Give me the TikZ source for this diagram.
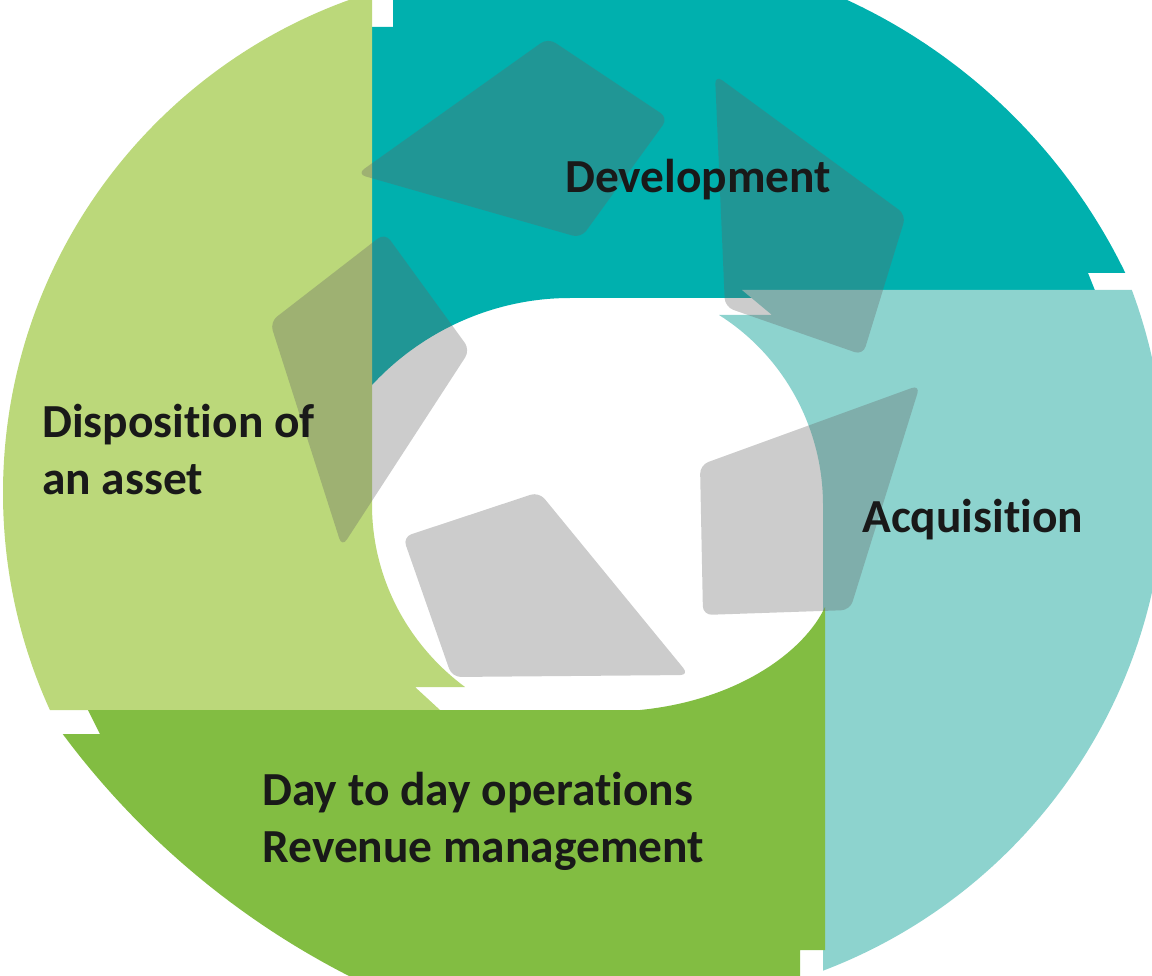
\documentclass[tikz,border=0pt]{standalone}
\usepackage{fontspec}
\setmainfont{Carlito}[Ligatures={NoCommon}]
\usepackage{tikz}

\definecolor{devteal}{RGB}{0,176,174}
\definecolor{acqteal}{RGB}{141,211,206}
\definecolor{dispgreen}{RGB}{187,216,122}
\definecolor{opsgreen}{RGB}{130,189,66}
\definecolor{shadegray}{RGB}{100,100,100}

\begin{document}
\begin{tikzpicture}[
	x=0.02cm, y=-0.02cm,
	segment/.style={draw=none},
	recycle/.style={
		fill=shadegray,
		fill opacity=0.33,
		rounded corners=5pt
	},
	caption/.style={
		inner sep=0pt,
		align=left,
		text=black!90,
		font=\bfseries\fontsize{27}{32.3}\selectfont
	}
	]
	
	\useasboundingbox (0,0) rectangle (1152,976);
	\clip (0,0) rectangle (1152,976);
	
	% Segments of the ring
	\begin{scope}
		\clip (605,525) circle[radius=578];
		\fill[segment, devteal] (393,-50) -- (393,27) -- (372,27) -- (372,385)
		.. controls (423,330) and (495,298) .. (570,298)
		-- (1098,298) -- (1088,273) -- (1300,273) -- (1300,-50) -- cycle;
	\end{scope}
	
	\begin{scope}
		\clip (635,475) circle[radius=530];
		\fill[segment, acqteal] (742,290) -- (772,315) -- (719,315)
		.. controls (784,356) and (823,428) .. (823,505)
		-- (823,1100) -- (1300,1100) -- (1300,290) -- cycle;
	\end{scope}
	
	\begin{scope}
		\clip (527,493) circle[radius=524];
		\fill[segment, dispgreen] (372,-50) -- (372,505)
		.. controls (372,577) and (407,644) .. (465,687)
		-- (415,687) -- (440,710) -- (-50,710) -- (-50,-50) -- cycle;
	\end{scope}
	
	\begin{scope}
		\clip (721,245) circle[radius=820];
		\fill[segment, opsgreen] (88,710) -- (100,734) -- (-50,734) -- (-50,1100)
		-- (800,1100) -- (800,950) -- (825,950) -- (825,607)
		.. controls (805,650) and (740,700) .. (640,710) -- cycle;
	\end{scope}
	
	% Recycling shapes
	\fill[recycle] (548,38) -- (668,118) -- (581,238) -- (357,174) -- cycle;
	\fill[recycle] (715,75) -- (906,215) -- (863,355) -- (725,307) -- cycle;
	\fill[recycle] (920,385) -- (850,610) -- (703,615) -- (700,465) -- cycle;
	\fill[recycle] (539,492) -- (689,675) -- (452,677) -- (403,537) -- cycle;
	\fill[recycle] (385,233) -- (470,350) -- (342,547) -- (270,322) -- cycle;
	
	% Labels
	\node[caption, anchor=base west] (development) at (565,193) {Development};
	\node[caption, anchor=base west] (acquisition) at (862,532) {Acquisition};
	\node[caption, anchor=base west] (disposition) at (42,494) {Disposition of\\an asset};
	\node[caption, anchor=base west] (operations) at (262,862) {Day to day operations\\Revenue management};
	
\end{tikzpicture}
\end{document}
